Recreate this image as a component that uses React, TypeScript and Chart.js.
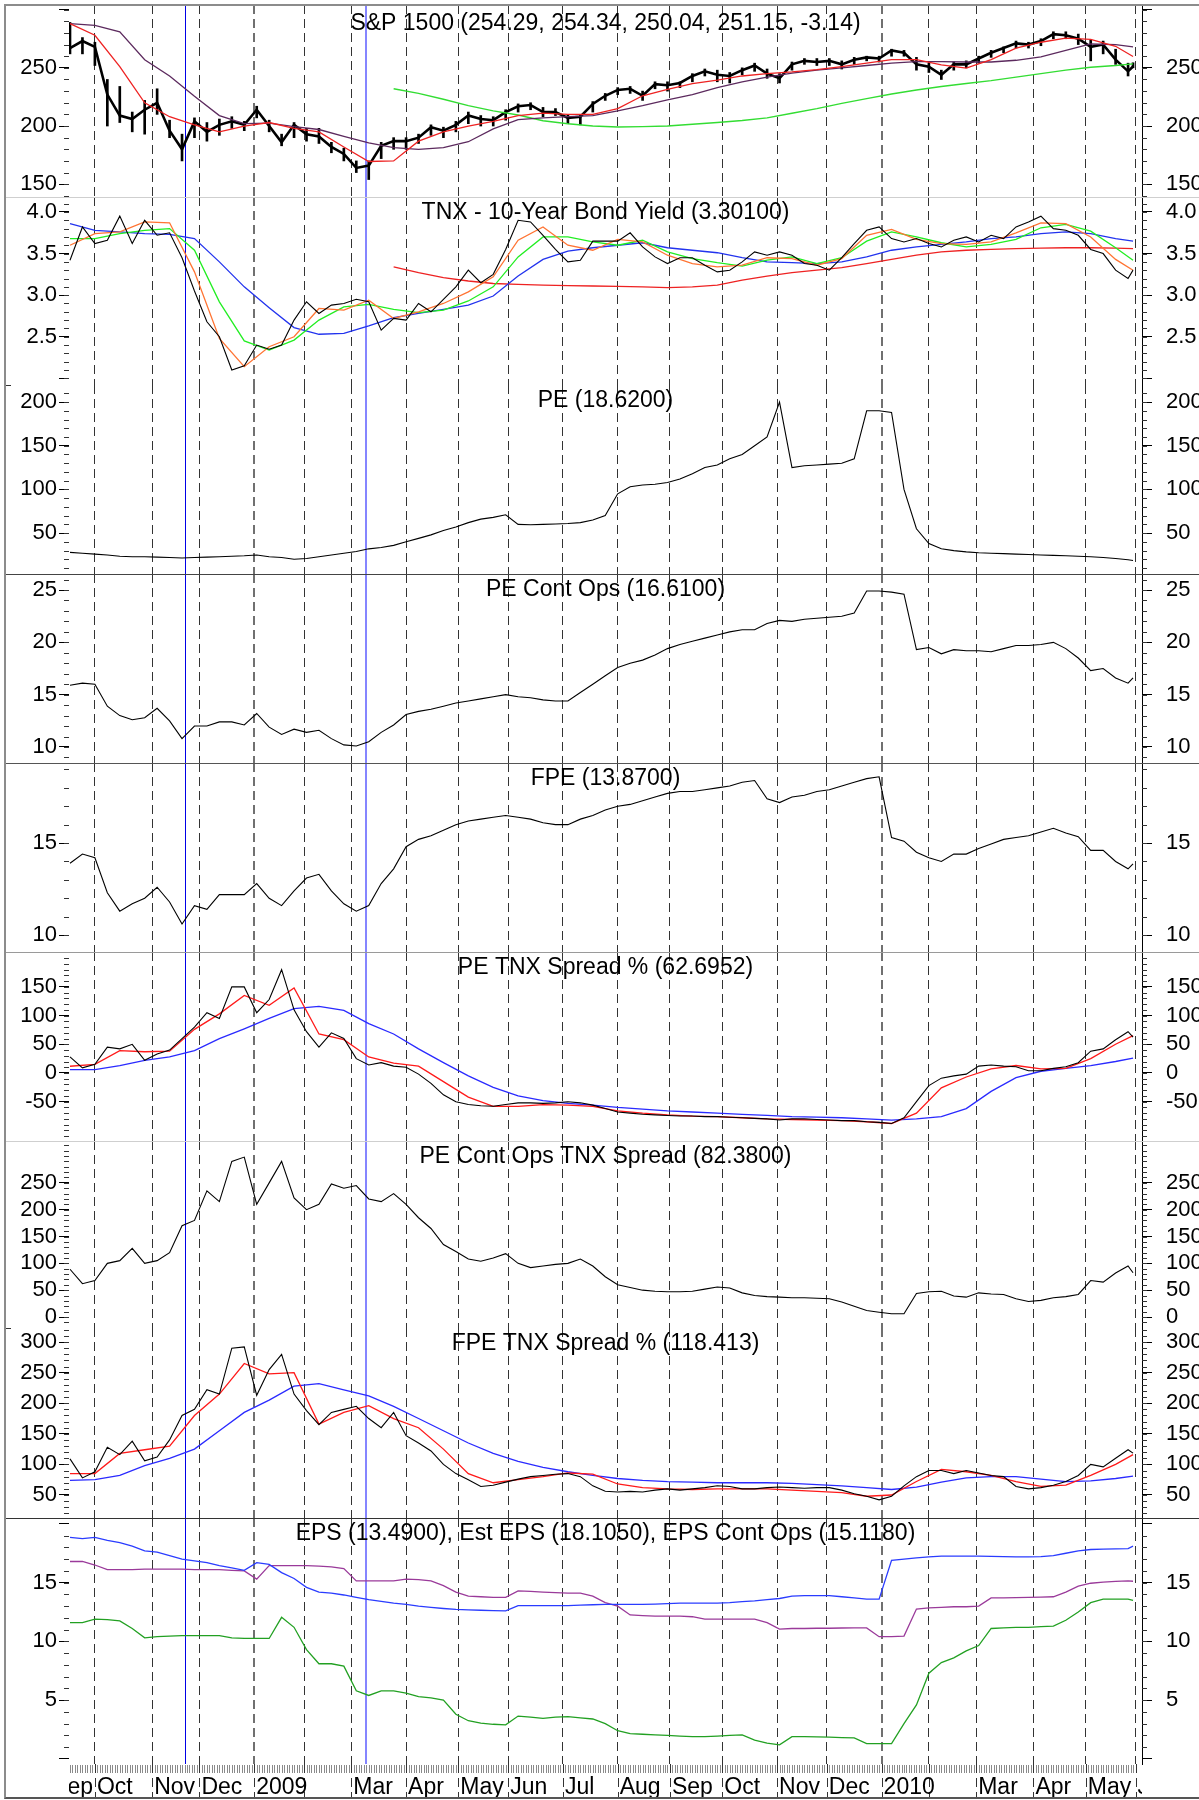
import React, { useEffect, useRef } from 'react';
import { Chart, registerables } from 'chart.js';

Chart.register(...registerables);

const FONT = "'Liberation Sans', Arial, Helvetica, sans-serif";
Chart.defaults.font.family = FONT;
Chart.defaults.color = '#000';

// ---- time axis: trading-day index, 0 = 17 Sep 2008, 427 = 28 May 2010 ----
const LAST_DAY = 427;
const X_MIN = -0.4;
const X_MAX = 430.6;
const WEEK_DAYS = Array.from({ length: 86 }, (_, k) => k * 5).concat([LAST_DAY]);
const MA_DAYS = Array.from({ length: 43 }, (_, k) => k * 10).concat([LAST_DAY]);
const MONTH_DAYS = [10, 33, 52, 74, 94, 113, 135, 156, 176, 198, 220, 241, 262, 284, 304, 326, 345, 364, 387, 408, 428];
const MONTH_LABELS = ['Oct', 'Nov', 'Dec', '2009', '', 'Mar', 'Apr', 'May', 'Jun', 'Jul', 'Aug', 'Sep', 'Oct', 'Nov', 'Dec', '2010', '', 'Mar', 'Apr', 'May', 'Jun'];
const LEAD_LABEL_DAY = -8;
const LEAD_LABEL = 'Sep';
const YEAR_DAYS = [74, 326];
const MARKER_DAYS = [46, 119];
const MARKER_COLORS = ['#0000e6', '#8585ff'];
const MARKER_WIDTHS = [1, 2];

// ---- S&P 1500 (weekly samples) ----
const SPX_CLOSE = [
  267, 273, 268, 227, 209, 206, 214, 220, 196, 180,
  204, 195, 201, 204, 201, 214, 200, 186, 201, 193,
  191, 182, 176, 164, 166, 183, 187, 187, 190, 199,
  196, 201, 209, 206, 205, 212, 217, 218, 212, 212,
  207, 208, 219, 226, 231, 232, 226, 236, 235, 237,
  243, 247, 244, 243, 248, 252, 245, 241, 253, 256,
  255, 256, 253, 257, 259, 258, 265, 263, 253, 251,
  244, 253, 253, 258, 263, 267, 271, 270, 273, 279,
  278, 275, 268, 270, 257, 247, 251.15,
];
const SPX_HIGH = [
  289, 276, 272, 240, 234, 212, 222, 232, 205, 193,
  207, 203, 206, 208, 204, 217, 205, 193, 203, 198,
  198, 186, 181, 170, 170, 186, 190, 190, 193, 201,
  199, 204, 212, 209, 208, 214, 219, 220, 216, 215,
  210, 210, 221, 228, 233, 234, 230, 238, 238, 238,
  245, 249, 248, 246, 250, 254, 249, 245, 255, 258,
  258, 258, 256, 259, 260, 260, 266, 265, 259, 254,
  248, 255, 256, 260, 265, 268, 273, 272, 275, 281,
  281, 279, 274, 273, 266, 254, 254.34,
];
const SPX_LOW = [
  262, 262, 252, 200, 203, 195, 193, 210, 190, 170,
  190, 187, 192, 198, 196, 207, 195, 183, 190, 187,
  185, 177, 170, 160, 154, 172, 180, 180, 185, 192,
  190, 195, 202, 200, 200, 205, 212, 214, 208, 209,
  202, 201, 212, 222, 227, 228, 222, 232, 230, 233,
  238, 243, 238, 237, 244, 247, 241, 237, 248, 253,
  252, 252, 249, 253, 256, 255, 260, 260, 248, 246,
  240, 248, 250, 254, 259, 263, 267, 267, 269, 275,
  275, 270, 256, 262, 253, 243, 250.04,
];
const SPX_MA_FAST = [
  288, 278, 251, 220, 208, 201, 195, 200, 203, 198,
  195, 182, 169.5, 170, 187, 195, 200, 204, 209, 211,
  210, 210, 215, 226, 231.5, 236.5, 239.5, 243, 245, 246.5,
  248.5, 251, 254, 257, 257, 252.5, 249.7, 257, 267, 272,
  275.5, 274.5, 268.5, 259.7,
];
const SPX_MA_MID = [
  288, 286.5, 281, 257, 243, 225.5, 209, 202, 202.5, 199.5,
  197, 191, 185.5, 181.5, 180, 181.5, 186.5, 197.5, 205.5, 207,
  208, 209, 213, 217.5, 222.5, 227, 233, 238, 242, 245.5,
  248, 250, 252, 254, 255.4, 255.4, 255, 255, 256.5, 259.5,
  265, 270.5, 270, 268,
];
const SPX_MA_SLOW = [
  null, null, null, null, null, null, null, null, null, null,
  null, null, null, 232, 228, 223, 217.5, 213, 209.5, 204.5,
  202, 200, 199.2, 199.5, 200, 201.5, 203, 204.7, 207, 211,
  215, 219.5, 223.5, 227.5, 231, 234, 236.5, 239, 242, 245,
  248, 250.5, 252, 253.4,
];

// ---- TNX ----
const TNX = [
  3.42, 3.82, 3.62, 3.66, 3.95, 3.62, 3.90, 3.72, 3.75, 3.45,
  3.05, 2.68, 2.50, 2.10, 2.15, 2.40, 2.35, 2.40, 2.70, 2.92,
  2.78, 2.88, 2.90, 2.95, 2.92, 2.58, 2.72, 2.70, 2.90, 2.80,
  2.95, 3.10, 3.30, 3.15, 3.25, 3.55, 3.90, 3.88, 3.72, 3.55,
  3.40, 3.42, 3.65, 3.65, 3.65, 3.75, 3.58, 3.46, 3.38, 3.45,
  3.45, 3.36, 3.28, 3.30, 3.40, 3.52, 3.48, 3.52, 3.48, 3.38,
  3.36, 3.30, 3.45, 3.62, 3.78, 3.82, 3.68, 3.64, 3.68, 3.62,
  3.58, 3.66, 3.70, 3.64, 3.72, 3.68, 3.82, 3.88, 3.95, 3.80,
  3.78, 3.72, 3.55, 3.50, 3.30, 3.20, 3.301,
];
const TNX_MA_ORANGE = [
  3.60, 3.74, 3.76, 3.88, 3.87, 3.28, 2.48, 2.14, 2.38, 2.50,
  2.84, 2.82, 2.94, 2.72, 2.80, 2.90, 3.04, 3.22, 3.66, 3.82,
  3.60, 3.54, 3.67, 3.64, 3.48, 3.38, 3.34, 3.36, 3.45, 3.44,
  3.36, 3.44, 3.72, 3.79, 3.67, 3.62, 3.61, 3.64, 3.75, 3.87,
  3.86, 3.70, 3.43, 3.30,
];
const TNX_MA_GREEN = [
  3.68, 3.68, 3.74, 3.78, 3.80, 3.54, 2.92, 2.45, 2.34, 2.46,
  2.70, 2.86, 2.89, 2.83, 2.79, 2.82, 2.93, 3.10, 3.46, 3.70,
  3.70, 3.64, 3.60, 3.66, 3.52, 3.44, 3.39, 3.35, 3.42, 3.46,
  3.38, 3.45, 3.65, 3.76, 3.70, 3.63, 3.58, 3.61, 3.67, 3.81,
  3.85, 3.77, 3.57, 3.42,
];
const TNX_MA_BLUE = [
  3.86, 3.78, 3.76, 3.74, 3.73, 3.68, 3.40, 3.10, 2.85, 2.61,
  2.53, 2.54, 2.63, 2.73, 2.78, 2.83, 2.88, 2.99, 3.23, 3.43,
  3.53, 3.57, 3.60, 3.63, 3.57, 3.54, 3.51, 3.45, 3.40, 3.39,
  3.38, 3.40, 3.46, 3.54, 3.58, 3.61, 3.64, 3.68, 3.70, 3.74,
  3.76, 3.74, 3.68, 3.65,
];
const TNX_MA_RED = [
  null, null, null, null, null, null, null, null, null, null,
  null, null, null, 3.34, 3.27, 3.21, 3.17, 3.14, 3.13, 3.12,
  3.115, 3.11, 3.105, 3.10, 3.09, 3.10, 3.12, 3.18, 3.23, 3.27,
  3.30, 3.33, 3.38, 3.43, 3.48, 3.52, 3.54, 3.55, 3.56, 3.565,
  3.57, 3.57, 3.565, 3.56,
];

// ---- valuation series ----
const PE = [
  28, 27, 26, 25, 23.5, 23, 23, 22.5, 22, 21.5,
  22, 22.5, 23, 23.5, 24, 25, 23, 22, 20, 21,
  23, 25, 27, 29, 32, 33.5, 36, 40, 44, 48,
  53, 57, 62, 66, 68, 71, 60, 59.5, 60, 60.5,
  61, 62, 65, 70, 95, 103, 105, 106, 108, 112,
  118, 125, 128, 135, 140, 150, 160, 200, 125, 127,
  128, 129, 130, 135, 190, 190, 188, 100, 55, 38,
  32, 30, 28.5, 27.5, 27, 26.5, 26, 25.5, 25, 24.5,
  24, 23.5, 23, 22, 21, 19.5, 18.62,
];
const PE_CONT_OPS = [
  15.9, 16.1, 16.0, 13.9, 13.0, 12.6, 12.8, 13.7, 12.5, 10.8,
  12.0, 12.0, 12.4, 12.4, 12.1, 13.2, 11.9, 11.2, 11.7, 11.4,
  11.6, 10.8, 10.2, 10.1, 10.5, 11.4, 12.1, 13.1, 13.4, 13.6,
  13.9, 14.2, 14.4, 14.6, 14.8, 15.0, 14.8, 14.7, 14.5, 14.4,
  14.4, 15.2, 16.0, 16.8, 17.6, 18.0, 18.3, 18.8, 19.4, 19.8,
  20.1, 20.4, 20.7, 21.0, 21.2, 21.2, 21.8, 22.1, 22.0, 22.2,
  22.3, 22.4, 22.5, 22.8, 24.9, 24.9, 24.8, 24.6, 19.3, 19.5,
  18.9, 19.3, 19.2, 19.2, 19.1, 19.4, 19.7, 19.7, 19.8, 20.0,
  19.4, 18.5, 17.3, 17.5, 16.6, 16.1, 16.61,
];
const FPE = [
  13.9, 14.4, 14.2, 12.3, 11.3, 11.7, 12.0, 12.6, 11.8, 10.6,
  11.6, 11.4, 12.2, 12.2, 12.2, 12.8, 12.0, 11.6, 12.4, 13.1,
  13.3, 12.4, 11.7, 11.3, 11.6, 12.8, 13.6, 14.8, 15.2, 15.4,
  15.7, 16.0, 16.2, 16.3, 16.4, 16.5, 16.4, 16.3, 16.1, 16.0,
  16.0, 16.3, 16.5, 16.8, 17.0, 17.1, 17.3, 17.5, 17.7, 17.8,
  17.8, 17.9, 18.0, 18.1, 18.3, 18.4, 17.4, 17.2, 17.5, 17.6,
  17.8, 17.9, 18.1, 18.3, 18.5, 18.6, 15.3, 15.1, 14.5, 14.2,
  14.0, 14.4, 14.4, 14.7, 14.95, 15.2, 15.3, 15.4, 15.6, 15.8,
  15.55, 15.35, 14.6, 14.6, 14.0, 13.6, 13.87,
];

// ---- spreads ----
const PE_TNX_SPREAD = [
  28, 9, 15, 45, 42, 50, 22, 33, 40, 60,
  80, 105, 95, 150, 150, 105, 128, 180, 110, 72,
  45, 70, 60, 25, 14, 18, 12, 10, -2, -18,
  -38, -50, -55, -57, -58, -55, -52, -52, -53, -52,
  -50, -52, -56, -62, -68, -70, -72, -73, -74, -75,
  -75, -76, -76, -77, -78, -79, -80, -82, -80, -80,
  -81, -82, -83, -83, -85, -86, -88, -78, -50, -22,
  -9, -5, -2, 12, 14, 12, 11, 4, 4, 8,
  11, 18, 38, 42, 58, 72, 62.6952,
];
const PE_TNX_MA_RED = [
  11.7, 15, 39, 37, 38, 76, 103, 135, 118, 148,
  68, 58, 28, 17, 12, -15, -42, -58, -58, -55,
  -56, -58, -66, -70, -73, -75, -76, -78, -80, -81,
  -82, -83, -85, -88, -70, -26, -7, 7, 13, 7,
  8, 25, 50, 65,
];
const PE_TNX_MA_BLUE = [
  6, 6, 13, 22, 28, 39, 60, 77, 95, 112,
  116, 109, 86, 68, 42, 18, -5, -25, -40, -48,
  -53, -56, -60, -63, -66, -68, -70, -72, -74, -76,
  -77, -78, -80, -82, -80, -76, -62, -32, -8, 3,
  8, 13, 20, 26,
];
const PE_CONT_OPS_TNX_SPREAD = [
  89, 62, 68, 100, 105, 128, 100, 105, 120, 170,
  180, 235, 215, 290, 298, 210, 250, 290, 222, 200,
  210, 248, 240, 245, 220, 215, 230, 210, 185, 165,
  135, 122, 108, 104, 110, 118, 100, 92, 95, 98,
  100, 108, 95, 75, 60, 55, 50, 48, 47, 47,
  48, 52, 56, 54, 45, 40, 38, 37, 36, 36,
  35, 34, 28, 20, 12, 9, 6, 6, 44, 47,
  48, 39, 37, 45, 43, 42, 34, 29, 31, 36,
  38, 42, 68, 65, 82, 95, 82.38,
];
const FPE_TNX_SPREAD = [
  109, 78, 88, 128, 116, 138, 106, 112, 140, 180,
  190, 222, 215, 290, 292, 213, 255, 280, 215, 188,
  165, 185, 190, 195, 175, 160, 185, 147, 135, 122,
  100, 85, 75, 64, 66, 71, 76, 80, 82, 84,
  85, 80, 65, 56, 55, 56, 55, 58, 60, 58,
  60, 62, 65, 64, 60, 60, 62, 63, 62, 61,
  62, 62, 58, 52, 48, 42, 48, 65, 80, 90,
  90, 85, 90, 86, 82, 80, 64, 60, 62, 66,
  72, 82, 100, 96, 110, 124, 118.413,
];
const FPE_TNX_MA_RED = [
  85, 85, 118, 124, 130, 180, 215, 265, 248, 250,
  166, 185, 196, 175, 160, 125, 85, 70, 75, 80,
  86, 84, 68, 62, 60, 59, 60, 60, 60, 58,
  56, 54, 48, 50, 72, 92, 88, 82, 72, 64,
  66, 82, 100, 116,
];
const FPE_TNX_MA_BLUE = [
  74, 75, 82, 98, 110, 125, 155, 185, 205, 228,
  232, 222, 212, 195, 175, 155, 135, 118, 105, 95,
  88, 82, 77, 74, 72, 71, 70, 70, 70, 69,
  67, 65, 62, 59, 63, 71, 78, 80, 80, 76,
  72, 73, 77, 81,
];

// ---- earnings ----
const EPS = [
  11.6, 11.6, 11.9, 11.85, 11.75, 11.1, 10.3, 10.4, 10.45, 10.5,
  10.5, 10.5, 10.5, 10.3, 10.25, 10.25, 10.25, 12.05, 11.2, 9.3,
  8.1, 8.1, 7.9, 5.8, 5.4, 5.8, 5.8, 5.6, 5.3, 5.2,
  5.0, 3.8, 3.25, 3.05, 2.95, 2.9, 3.65, 3.55, 3.45, 3.55,
  3.6, 3.5, 3.4, 3.0, 2.4, 2.15, 2.1, 2.05, 2.0, 1.95,
  1.9, 1.9, 1.95, 2.0, 2.05, 1.6, 1.35, 1.2, 1.9, 1.9,
  1.88, 1.85, 1.82, 1.8, 1.3, 1.3, 1.3, 3.0, 4.6, 7.3,
  8.2, 8.6, 9.2, 9.65, 11.1, 11.15, 11.2, 11.2, 11.25, 11.3,
  11.8, 12.5, 13.3, 13.6, 13.6, 13.6, 13.49,
];
const EST_EPS = [
  18.85, 18.75, 18.85, 18.6, 18.4, 18.1, 17.7, 17.6, 17.3, 17.0,
  16.85, 16.7, 16.45, 16.25, 16.05, 16.7, 16.55, 15.85, 15.35, 14.6,
  14.2, 14.1, 13.95, 13.75, 13.55, 13.4, 13.25, 13.15, 13.0, 12.9,
  12.8, 12.72, 12.68, 12.65, 12.62, 12.6, 13.05, 13.05, 13.05, 13.05,
  13.05, 13.08, 13.12, 13.15, 13.15, 13.15, 13.15, 13.18, 13.22, 13.25,
  13.25, 13.25, 13.25, 13.3, 13.38, 13.45, 13.55, 13.65, 13.85, 13.9,
  13.9, 13.9, 13.8, 13.7, 13.6, 13.6, 16.9, 17.0, 17.1, 17.2,
  17.25, 17.25, 17.25, 17.25, 17.23, 17.22, 17.2, 17.2, 17.22, 17.3,
  17.5, 17.7, 17.82, 17.86, 17.88, 17.9, 18.105,
];
const EPS_CONT_OPS = [
  16.8, 16.8, 16.5, 16.1, 16.1, 16.1, 16.15, 16.15, 16.15, 16.15,
  16.1, 16.1, 16.1, 16.05, 16.0, 15.3, 16.45, 16.45, 16.45, 16.45,
  16.4, 16.35, 16.2, 15.15, 15.15, 15.15, 15.15, 15.3, 15.25, 15.15,
  14.75, 14.2, 13.85, 13.8, 13.75, 13.75, 14.3, 14.25, 14.2, 14.15,
  14.1, 14.1, 13.85, 13.3, 13.0, 12.25, 12.2, 12.15, 12.15, 12.15,
  12.1, 11.9, 11.9, 11.9, 11.9, 11.9, 11.6, 11.05, 11.1, 11.1,
  11.12, 11.12, 11.14, 11.15, 11.15, 10.4, 10.4, 10.45, 12.75, 12.85,
  12.9, 12.95, 12.95, 13.0, 13.7, 13.7, 13.72, 13.75, 13.77, 13.8,
  14.2, 14.7, 14.95, 15.05, 15.1, 15.15, 15.118,
];

// ---- panel titles ----
const TITLES = [
  'S&P 1500 (254.29, 254.34, 250.04, 251.15, -3.14)',
  'TNX - 10-Year Bond Yield (3.30100)',
  'PE (18.6200)',
  'PE Cont Ops (16.6100)',
  'FPE (13.8700)',
  'PE TNX Spread % (62.6952)',
  'PE Cont Ops TNX Spread (82.3800)',
  'FPE TNX Spread % (118.413)',
  'EPS (13.4900), Est EPS (18.1050), EPS Cont Ops (15.1180)',
];

type Line = { days: number[]; vals: (number | null)[]; color: string; width: number };
type Panel = {
  title: string; top: number; height: number; axisH: number; titleY: number;
  min: number; max: number; majors: number[]; labels: number[]; dec: number;
  minor: [number, number, number];
  lines: Line[]; bars?: boolean; bottom?: boolean;
};

const L = (days: number[], vals: (number | null)[], color: string, width: number): Line => ({ days, vals, color, width });

const PANELS: Panel[] = [
  {
    title: TITLES[0], top: 5, height: 192, axisH: 0, titleY: 25,
    min: 139, max: 304, majors: [150, 200, 250, 300], labels: [150, 200, 250], dec: 0, minor: [140, 300, 10],
    lines: [
      L(MA_DAYS, SPX_MA_FAST, '#ee2222', 1.3),
      L(MA_DAYS, SPX_MA_MID, '#5c2a5e', 1.3),
      L(MA_DAYS, SPX_MA_SLOW, '#33dd33', 1.4),
      L(WEEK_DAYS, SPX_CLOSE, '#000000', 2.6),
    ],
    bars: true,
  },
  {
    title: TITLES[1], top: 197, height: 188, axisH: 0, titleY: 22,
    min: 1.92, max: 4.18, majors: [2.0, 2.5, 3.0, 3.5, 4.0], labels: [2.5, 3.0, 3.5, 4.0], dec: 1, minor: [2.0, 4.1, 0.1],
    lines: [
      L(WEEK_DAYS, TNX, '#000000', 1.1),
      L(MA_DAYS, TNX_MA_ORANGE, '#ff7433', 1.3),
      L(MA_DAYS, TNX_MA_GREEN, '#22ee22', 1.3),
      L(MA_DAYS, TNX_MA_BLUE, '#2233ee', 1.3),
      L(MA_DAYS, TNX_MA_RED, '#ee2222', 1.3),
    ],
  },
  {
    title: TITLES[2], top: 385, height: 189, axisH: 0, titleY: 22,
    min: 3.2, max: 219.5, majors: [50, 100, 150, 200], labels: [50, 100, 150, 200], dec: 0, minor: [10, 210, 10],
    lines: [L(WEEK_DAYS, PE, '#000000', 1.1)],
  },
  {
    title: TITLES[3], top: 574, height: 189, axisH: 0, titleY: 22,
    min: 8.47, max: 26.53, majors: [10, 15, 20, 25], labels: [10, 15, 20, 25], dec: 0, minor: [9, 26, 1],
    lines: [L(WEEK_DAYS, PE_CONT_OPS, '#000000', 1.1)],
  },
  {
    title: TITLES[4], top: 763, height: 189, axisH: 0, titleY: 22,
    min: 9.08, max: 19.35, majors: [10, 15], labels: [10, 15], dec: 0, minor: [10, 19, 1],
    lines: [L(WEEK_DAYS, FPE, '#000000', 1.1)],
  },
  {
    title: TITLES[5], top: 952, height: 189, axisH: 0, titleY: 22,
    min: -118.5, max: 210.8, majors: [-50, 0, 50, 100, 150], labels: [-50, 0, 50, 100, 150], dec: 0, minor: [-110, 210, 10],
    lines: [
      L(WEEK_DAYS, PE_TNX_SPREAD, '#000000', 1.1),
      L(MA_DAYS, PE_TNX_MA_RED, '#ff1a1a', 1.3),
      L(MA_DAYS, PE_TNX_MA_BLUE, '#2a2aff', 1.3),
    ],
  },
  {
    title: TITLES[6], top: 1141, height: 187, axisH: 0, titleY: 22,
    min: -20.5, max: 328, majors: [0, 50, 100, 150, 200, 250], labels: [0, 50, 100, 150, 200, 250], dec: 0, minor: [-20, 320, 10],
    lines: [L(WEEK_DAYS, PE_CONT_OPS_TNX_SPREAD, '#000000', 1.1)],
  },
  {
    title: TITLES[7], top: 1328, height: 190, axisH: 0, titleY: 22,
    min: 12.4, max: 323, majors: [50, 100, 150, 200, 250, 300], labels: [50, 100, 150, 200, 250, 300], dec: 0, minor: [20, 320, 10],
    lines: [
      L(WEEK_DAYS, FPE_TNX_SPREAD, '#000000', 1.1),
      L(MA_DAYS, FPE_TNX_MA_RED, '#ff1a1a', 1.3),
      L(MA_DAYS, FPE_TNX_MA_BLUE, '#2a2aff', 1.3),
    ],
  },
  {
    title: TITLES[8], top: 1518, height: 246, axisH: 36, titleY: 22,
    min: -0.43, max: 20.5, majors: [0, 5, 10, 15, 20], labels: [5, 10, 15], dec: 0, minor: [1, 19, 1],
    lines: [
      L(WEEK_DAYS, EST_EPS, '#2a3cff', 1.3),
      L(WEEK_DAYS, EPS_CONT_OPS, '#9a3a9a', 1.3),
      L(WEEK_DAYS, EPS, '#22a022', 1.3),
    ],
    bottom: true,
  },
];

const SEPARATORS: { y: number; color: string }[] = [
  { y: 197, color: '#cfcfcf' },
  { y: 574, color: '#444444' },
  { y: 763, color: '#555555' },
  { y: 952, color: '#9a9a9a' },
  { y: 1141, color: '#cfcfcf' },
  { y: 1518, color: '#333333' },
];
const BORDER_NOTCHES = [385, 1328];

function makeDecor(p: Panel) {
  return {
    id: 'panelDecor',
    beforeDatasetsDraw(chart: any) {
      const { ctx, chartArea: a, scales } = chart;
      const x = scales.x;
      ctx.save();
      MARKER_DAYS.forEach((d, k) => {
        const px = Math.round(x.getPixelForValue(d)) + (MARKER_WIDTHS[k] === 1 ? 0.5 : 0);
        ctx.strokeStyle = MARKER_COLORS[k];
        ctx.lineWidth = MARKER_WIDTHS[k];
        ctx.beginPath();
        ctx.moveTo(px, 0);
        ctx.lineTo(px, a.bottom);
        ctx.stroke();
      });
      ctx.restore();
    },
    afterDraw(chart: any) {
      const { ctx, chartArea: a, scales } = chart;
      const y = scales.yL;
      const x = scales.x;
      ctx.save();
      ctx.strokeStyle = '#333';
      ctx.lineWidth = 1;
      ctx.beginPath();
      const [from, to, step] = p.minor;
      const n = Math.round((to - from) / step);
      for (let k = 0; k <= n; k++) {
        const v = from + k * step;
        if (v < p.min || v > p.max) continue;
        const py = Math.round(y.getPixelForValue(v)) + 0.5;
        ctx.moveTo(a.left - 5, py);
        ctx.lineTo(a.left, py);
        ctx.moveTo(a.right, py);
        ctx.lineTo(a.right + 5, py);
      }
      ctx.stroke();
      ctx.fillStyle = '#000';
      ctx.font = `23px ${FONT}`;
      ctx.textAlign = 'center';
      ctx.textBaseline = 'alphabetic';
      ctx.fillText(p.title, (a.left + a.right) / 2, p.titleY);

      if (p.bottom) {
        ctx.strokeStyle = '#8a8a8a';
        ctx.beginPath();
        for (let d = 0; d <= LAST_DAY; d++) {
          const px = Math.round(x.getPixelForValue(d)) + 0.5;
          ctx.moveTo(px, a.bottom + 1);
          ctx.lineTo(px, a.bottom + 9);
        }
        ctx.stroke();
        ctx.strokeStyle = '#333';
        ctx.setLineDash([9, 5]);
        ctx.beginPath();
        MONTH_DAYS.forEach((d) => {
          const px = Math.round(x.getPixelForValue(d)) + 0.5;
          ctx.moveTo(px, a.bottom);
          ctx.lineTo(px, chart.height - 3);
        });
        ctx.stroke();
        ctx.setLineDash([]);
        ctx.beginPath();
        ctx.rect(a.left, a.bottom, a.right - a.left, chart.height - a.bottom);
        ctx.clip();
        ctx.font = `23px ${FONT}`;
        ctx.textAlign = 'left';
        ctx.fillStyle = '#000';
        const baseY = a.bottom + 30;
        ctx.fillText(LEAD_LABEL, x.getPixelForValue(LEAD_LABEL_DAY) + 2, baseY);
        MONTH_DAYS.forEach((d, k) => {
          if (MONTH_LABELS[k]) ctx.fillText(MONTH_LABELS[k], x.getPixelForValue(d) + 2, baseY);
        });
      }
      ctx.restore();
    },
  };
}

function buildConfig(p: Panel): any {
  const datasets: any[] = p.lines.map((l) => ({
    type: 'line',
    data: l.days.map((d, k) => ({ x: d, y: l.vals[k] })),
    borderColor: l.color,
    borderWidth: l.width,
    pointRadius: 0,
    pointHoverRadius: 0,
    tension: 0,
    fill: false,
    spanGaps: false,
    xAxisID: 'x',
    yAxisID: 'yL',
  }));
  if (p.bars) {
    datasets.push({
      type: 'bar',
      data: WEEK_DAYS.map((d, k) => ({ x: d, y: [SPX_LOW[k], SPX_HIGH[k]] })),
      backgroundColor: '#000',
      borderWidth: 0,
      barThickness: 2,
      grouped: false,
      xAxisID: 'x',
      yAxisID: 'yL',
    });
  }
  const fmt = (v: number) => (p.labels.includes(v) ? v.toFixed(p.dec) : '');
  const yCommon = (pos: 'left' | 'right') => ({
    type: 'linear',
    position: pos,
    min: p.min,
    max: p.max,
    beginAtZero: false,
    afterBuildTicks: (s: any) => { s.ticks = p.majors.map((v) => ({ value: v })); },
    afterFit: (s: any) => {
      s.width = pos === 'left' ? 69 : 57;
      s.paddingTop = 0; s.paddingBottom = 0; s.paddingLeft = 0; s.paddingRight = 0;
    },
    ticks: {
      autoSkip: false,
      padding: pos === 'left' ? 2 : 14,
      font: { family: FONT, size: 22 },
      color: '#000',
      callback: (v: number) => fmt(v),
    },
    grid: { drawOnChartArea: false, drawTicks: true, tickLength: 10, tickColor: '#000', color: '#000' },
    border: { display: pos === 'right', color: '#000', width: 1 },
  });
  return {
    type: 'line',
    data: { datasets },
    plugins: [makeDecor(p)],
    options: {
      responsive: false,
      maintainAspectRatio: false,
      animation: false,
      events: [],
      layout: { padding: 0, autoPadding: false },
      plugins: { legend: { display: false }, tooltip: { enabled: false }, title: { display: false } },
      scales: {
        x: {
          type: 'linear',
          min: X_MIN,
          max: X_MAX,
          offset: false,
          afterBuildTicks: (s: any) => { s.ticks = MONTH_DAYS.map((v) => ({ value: v })); },
          afterFit: (s: any) => {
            s.height = p.axisH;
            s.paddingLeft = 0; s.paddingRight = 0; s.paddingTop = 0; s.paddingBottom = 0;
          },
          ticks: { display: false },
          grid: {
            display: true,
            offset: false,
            drawOnChartArea: true,
            drawTicks: false,
            color: (c: any) => (c.tick && YEAR_DAYS.includes(c.tick.value) ? '#707070' : '#333333'),
            lineWidth: (c: any) => (c.tick && YEAR_DAYS.includes(c.tick.value) ? 2 : 1),
          },
          border: { display: false, dash: [9, 5] },
        },
        yL: yCommon('left'),
        yR: yCommon('right'),
      },
    },
  };
}

export default function App() {
  const refs = useRef<(HTMLCanvasElement | null)[]>([]);
  useEffect(() => {
    const charts = PANELS.map((p, i) => new Chart(refs.current[i] as HTMLCanvasElement, buildConfig(p)));
    return () => charts.forEach((c) => c.destroy());
  }, []);
  return (
    <div style={{ position: 'absolute', left: 0, top: 0, width: 1199, height: 1800, overflow: 'hidden', background: '#fff' }}>
      {PANELS.map((p, i) => (
        <canvas
          key={i}
          ref={(el) => { refs.current[i] = el; }}
          width={1199}
          height={p.height + p.axisH}
          style={{ position: 'absolute', left: 0, top: p.top, display: 'block' }}
        />
      ))}
      {SEPARATORS.map((s, i) => (
        <div key={'s' + i} style={{ position: 'absolute', left: 5, top: s.y, width: 1194, height: 1, background: s.color }} />
      ))}
      {BORDER_NOTCHES.map((y, i) => (
        <div key={'n' + i} style={{ position: 'absolute', left: 5, top: y, width: 6, height: 1, background: '#333' }} />
      ))}
      <div
        style={{
          position: 'absolute', left: 4, top: 4, width: 1200, height: 1791,
          borderLeft: '2px solid #8c8c8c', borderTop: '2px solid #8c8c8c', borderBottom: '2px solid #555',
          pointerEvents: 'none',
        }}
      />
    </div>
  );
}
